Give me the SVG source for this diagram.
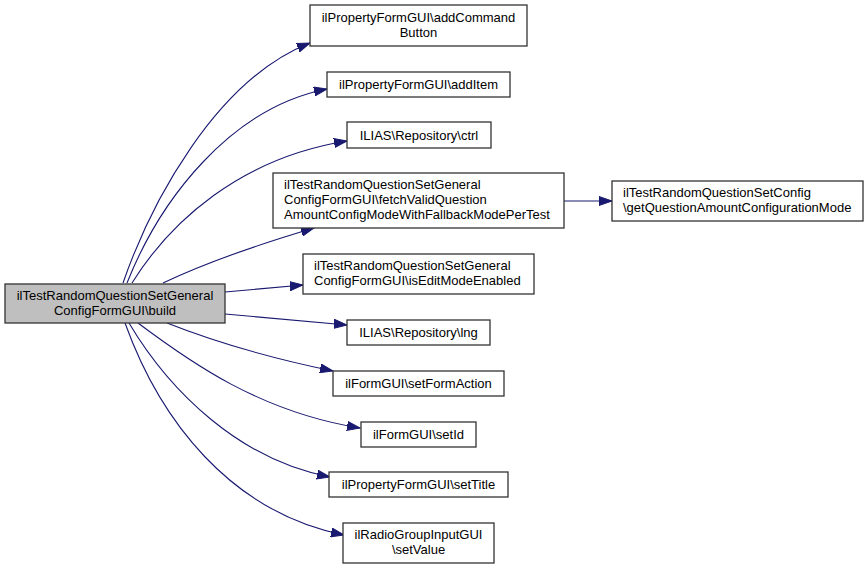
<svg xmlns="http://www.w3.org/2000/svg" width="868" height="569" viewBox="0 0 868 569">
<style>
.n rect{fill:#fff;stroke:#333;stroke-width:1.3}
#main rect{fill:#bfbfbf}
text{font-family:"Liberation Sans",Arial,sans-serif;font-size:13px;fill:#000}
.c{text-anchor:middle}
.e path{fill:none;stroke:#191970;stroke-width:1.1;marker-end:url(#ah)}
</style>
<defs>
<marker id="ah" markerUnits="userSpaceOnUse" markerWidth="14" markerHeight="10" refX="13" refY="5" orient="auto" viewBox="0 0 14 10">
<path d="M0,0.5 L13,5 L0,9.5 z" fill="#191970" stroke="#191970" stroke-width="1"/>
</marker>
</defs>
<rect width="868" height="569" fill="#fff"/>
<g id="edges" class="e">
<path d="M123,283 C150,205 215,80 310,43"/>
<path d="M127,283 C160,200 230,108 327,89"/>
<path d="M132,283 C170,222 240,158 347,141"/>
<path d="M163,283 C205,263 260,244 314,228"/>
<path d="M225,292 L303,285"/>
<path d="M225,314 L347,325"/>
<path d="M167,323 C210,340 270,358 333,371"/>
<path d="M138,323 C190,362 260,412 360,428"/>
<path d="M129,323 C170,392 240,460 330,477"/>
<path d="M125,323 C160,420 230,512 344,535"/>
<path d="M564,201 L612,201"/>
</g>
<g id="main" class="n"><rect x="5" y="284" width="220" height="39"/>
<text class="c" x="115" y="300">ilTestRandomQuestionSetGeneral</text>
<text class="c" x="115" y="315">ConfigFormGUI\build</text></g>
<g id="addCommandButton" class="n"><rect x="310" y="5" width="217" height="41"/>
<text class="c" x="418.5" y="22">ilPropertyFormGUI\addCommand</text>
<text class="c" x="418.5" y="37">Button</text></g>
<g id="addItem" class="n"><rect x="327" y="72" width="183" height="25"/>
<text class="c" x="418.5" y="89">ilPropertyFormGUI\addItem</text></g>
<g id="ctrl" class="n"><rect x="347" y="122" width="144" height="26"/>
<text class="c" x="419" y="140">ILIAS\Repository\ctrl</text></g>
<g id="fetch" class="n"><rect x="273" y="173" width="291" height="55"/>
<text x="284" y="189">ilTestRandomQuestionSetGeneral</text>
<text x="284" y="204">ConfigFormGUI\fetchValidQuestion</text>
<text x="284" y="219">AmountConfigModeWithFallbackModePerTest</text></g>
<g id="getQuestionAmount" class="n"><rect x="612" y="181" width="251" height="40"/>
<text x="623" y="197">ilTestRandomQuestionSetConfig</text>
<text x="623" y="212">\getQuestionAmountConfigurationMode</text></g>
<g id="isEdit" class="n"><rect x="303" y="254" width="231" height="40"/>
<text x="314" y="270">ilTestRandomQuestionSetGeneral</text>
<text x="314" y="285">ConfigFormGUI\isEditModeEnabled</text></g>
<g id="lng" class="n"><rect x="347" y="320" width="143" height="25"/>
<text class="c" x="418.5" y="337">ILIAS\Repository\lng</text></g>
<g id="setFormAction" class="n"><rect x="333" y="371" width="171" height="25"/>
<text class="c" x="418.5" y="388">ilFormGUI\setFormAction</text></g>
<g id="setId" class="n"><rect x="361" y="422" width="115" height="25"/>
<text class="c" x="418.5" y="439">ilFormGUI\setId</text></g>
<g id="setTitle" class="n"><rect x="329" y="472" width="179" height="25"/>
<text class="c" x="418.5" y="489">ilPropertyFormGUI\setTitle</text></g>
<g id="setValue" class="n"><rect x="343" y="523" width="151" height="40"/>
<text class="c" x="418.5" y="539">ilRadioGroupInputGUI</text>
<text class="c" x="418.5" y="554">\setValue</text></g>
</svg>
